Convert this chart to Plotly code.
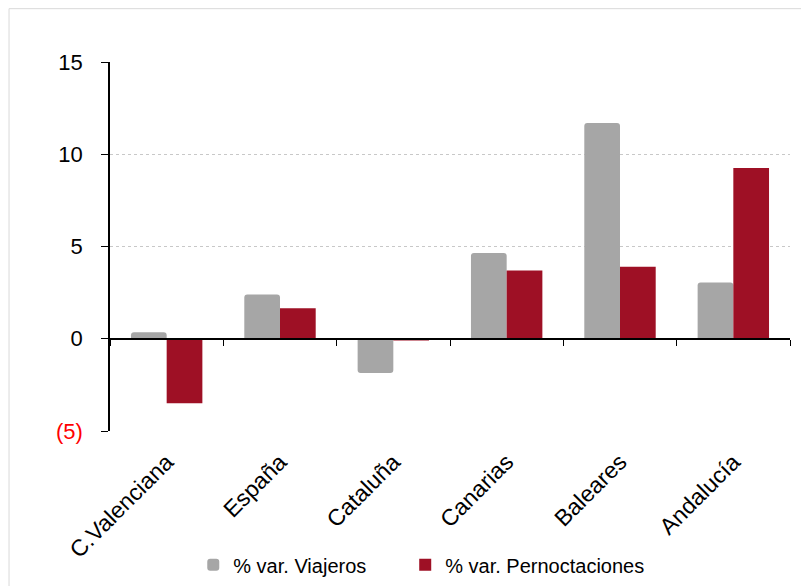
import plotly.graph_objects as go

categories = ["C.Valenciana", "España", "Cataluña", "Canarias", "Baleares", "Andalucía"]
viajeros = [0.35, 2.4, -1.85, 4.65, 11.7, 3.05]
pernoctaciones = [-3.5, 1.65, -0.1, 3.7, 3.9, 9.25]
y_tickvals = [-5, 0, 5, 10, 15]
y_ticktext = ['<span style="color:#FF0000">(5)</span>', "0", "5", "10", "15"]

FONT = "Liberation Sans, Arial, sans-serif"
GRAY = "#A6A6A6"
RED = "#9E1025"

fig = go.Figure()
fig.add_trace(go.Bar(x=categories, y=viajeros, name="% var. Viajeros", legend="legend",
                     marker=dict(color=GRAY, cornerradius=3, line=dict(width=0))))
fig.add_trace(go.Bar(x=categories, y=pernoctaciones, name="% var. Pernoctaciones",
                     legend="legend2", marker=dict(color=RED, line=dict(width=0))))
# invisible trace for the zero-line axis with boundary ticks
fig.add_trace(go.Scatter(x=[-0.5, 5.5], y=[0, 0], xaxis="x2", mode="lines",
                         line=dict(width=0), showlegend=False, hoverinfo="skip"))

legend_common = dict(orientation="h", xref="container", yref="container",
                     xanchor="left", y=0.05, yanchor="middle",
                     font=dict(size=20), itemwidth=30, bgcolor="rgba(0,0,0,0)")

fig.update_layout(
    width=809, height=586,
    margin=dict(l=102, r=27, t=54, b=163, autoexpand=False),
    paper_bgcolor="white", plot_bgcolor="white",
    font=dict(family=FONT, size=22, color="black"),
    barmode="group", bargap=0.37, bargroupgap=0,
    xaxis=dict(range=[-0.5, 5.5], showline=False, ticks="", tickangle=-45,
               showgrid=False, zeroline=False, tickfont=dict(size=23),
               ticklabelstandoff=12, automargin=False),
    xaxis2=dict(range=[-0.5, 5.5], overlaying="x", anchor="free", position=0.25,
                side="bottom", showline=True, linecolor="black", linewidth=1.5,
                ticks="outside", ticklen=6, tickcolor="black",
                tickvals=[-0.5, 0.5, 1.5, 2.5, 3.5, 4.5, 5.5],
                showticklabels=False, showgrid=False, zeroline=False, automargin=False),
    yaxis=dict(range=[-5, 15], tickvals=y_tickvals, ticktext=y_ticktext,
               showline=True, linecolor="black", linewidth=1.5,
               ticks="outside", ticklen=7, tickcolor="black",
               showgrid=True, gridcolor="#C8C8C8", griddash="dot", gridwidth=1,
               zeroline=False, tickfont=dict(size=22), ticklabelstandoff=14,
               automargin=False),
    legend=dict(x=0.229, **legend_common),
    legend2=dict(x=0.491, **legend_common),
    shapes=[dict(type="rect", xref="paper", yref="paper",
                 x0=-0.1485, x1=1.0235, y0=-0.5, y1=1.1445,
                 line=dict(color="#D9D9D9", width=1), fillcolor="rgba(0,0,0,0)",
                 layer="below")],
)

fig.write_html("out.html")
